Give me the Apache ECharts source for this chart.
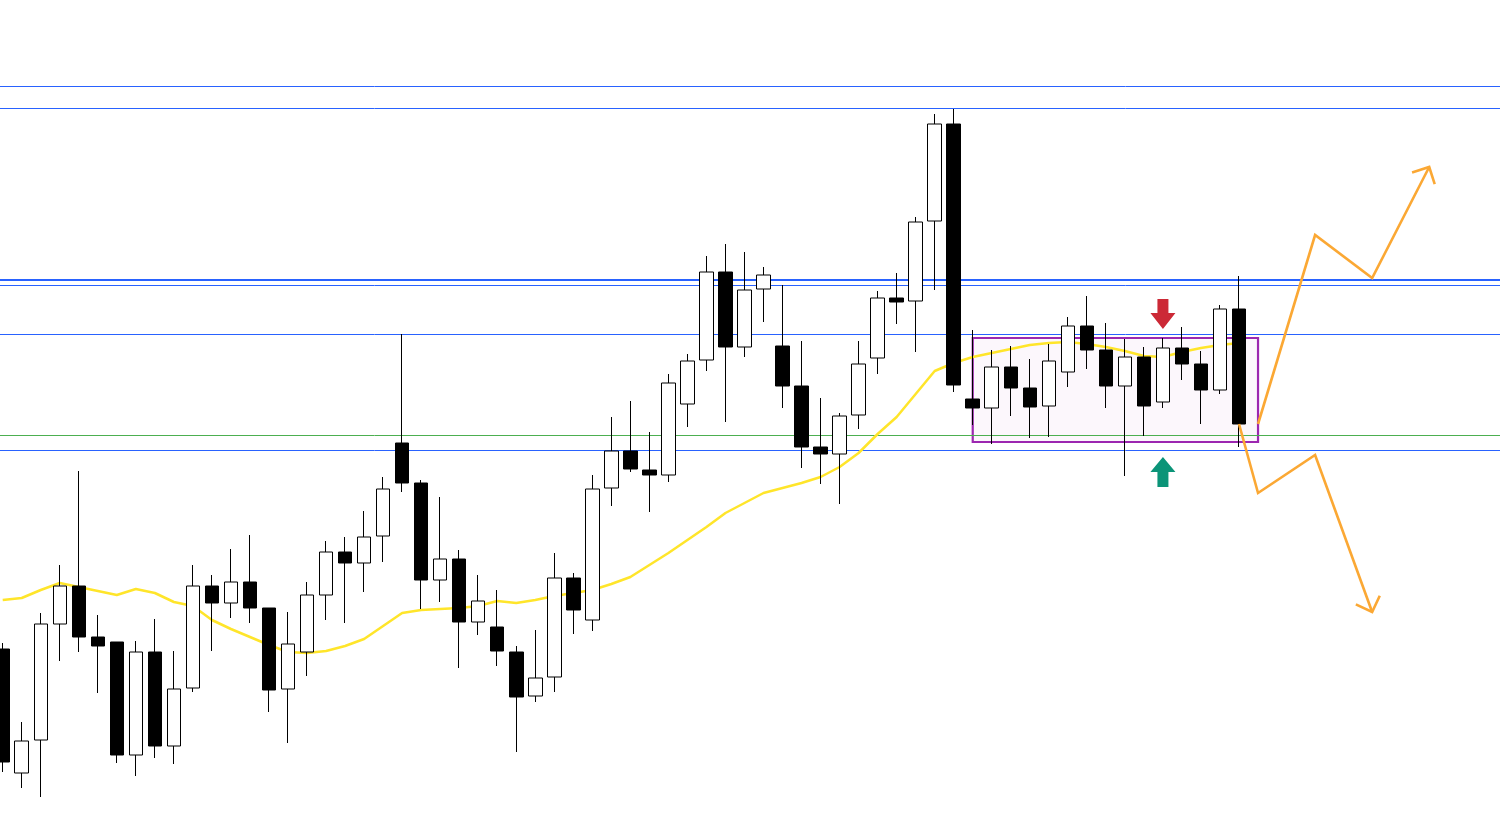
<!DOCTYPE html>
<html>
<head>
<meta charset="utf-8">
<script src="https://cdn.jsdelivr.net/npm/echarts@6/dist/echarts.min.js"></script>
<style>
html,body{margin:0;padding:0;background:#fff;}
#chart{width:1500px;height:814px;}
</style>
</head>
<body>
<div id="chart"></div>
<script>
// ---- data (prices on an arbitrary scale) ----
const opens  = [141.65,140.41,140.74,141.90,142.28,141.77,141.72,140.59,141.62,140.68,
                141.26,142.28,142.11,142.32,142.06,141.25,141.62,142.19,142.62,142.51,
                142.78,143.71,143.31,142.34,142.55,141.92,141.87,141.62,141.18,141.37,
                142.36,141.94,143.26,143.63,143.44,143.39,144.10,144.54,145.42,144.67,
                145.25,144.68,144.28,143.67,143.60,143.99,144.56,145.16,145.13,145.93,
                146.90,144.15,144.06,144.47,144.26,144.08,144.42,144.88,144.64,144.28,
                144.57,144.12,144.66,144.50,144.24,145.05];
const closes = [140.52,140.73,141.90,142.28,141.77,141.68,140.59,141.62,140.68,141.25,
                142.28,142.11,142.32,142.06,141.24,141.70,142.19,142.62,142.51,142.77,
                143.25,143.31,142.34,142.55,141.92,142.13,141.63,141.17,141.36,142.36,
                142.04,143.25,143.63,143.45,143.39,144.31,144.53,145.42,144.67,145.24,
                145.39,144.28,143.67,143.60,143.98,144.50,145.16,145.12,145.92,146.90,
                144.29,144.06,144.47,144.26,144.07,144.53,144.88,144.64,144.28,144.57,
                144.08,144.66,144.50,144.24,145.05,143.90];
const lows   = [140.42,140.26,140.17,141.53,141.62,141.21,140.51,140.38,140.56,140.50,
                141.22,141.63,141.96,141.91,141.02,140.71,141.38,141.94,141.91,142.22,
                142.52,143.22,142.05,142.12,141.46,141.79,141.48,140.62,141.12,141.22,
                141.80,141.83,143.08,143.42,143.02,143.32,143.87,144.43,143.92,144.57,
                144.92,144.06,143.46,143.30,143.10,143.85,144.40,144.90,144.62,145.24,
                144.22,143.89,143.70,143.98,143.76,143.77,144.27,144.45,144.06,143.38,
                143.78,144.06,144.34,143.90,144.20,143.67];
const highs  = [141.71,140.92,142.01,142.49,143.43,141.99,141.72,141.73,141.95,141.63,
                142.49,142.39,142.65,142.79,142.06,142.02,142.32,142.73,142.77,143.03,
                143.37,144.80,143.34,143.17,142.64,142.39,142.24,141.68,141.84,142.61,
                142.41,143.39,143.97,144.13,143.82,144.40,144.60,145.58,145.70,145.62,
                145.47,145.29,144.73,144.16,144.01,144.73,145.23,145.41,145.97,147.00,
                147.05,144.84,144.64,144.68,144.55,144.70,144.97,145.18,144.91,144.75,
                144.67,144.76,144.87,144.63,145.09,145.38];
const maValues = [142.14,142.16,142.24,142.31,142.27,142.23,142.19,142.25,142.21,142.12,
                  142.08,141.94,141.85,141.77,141.69,141.62,141.61,141.63,141.68,141.75,
                  141.88,142.01,142.04,142.05,142.06,142.08,142.13,142.11,142.14,142.18,
                  142.21,142.24,142.30,142.37,142.49,142.61,142.74,142.87,143.01,143.11,
                  143.21,143.26,143.31,143.37,143.47,143.61,143.80,143.97,144.20,144.43,
                  144.51,144.57,144.61,144.65,144.69,144.71,144.72,144.70,144.67,144.63,
                  144.58,144.57,144.62,144.66,144.69,144.71];
const slotCount = 80;                       // candle slots incl. empty future area
const categories = Array.from({length: slotCount}, (_, i) => 'Bar ' + (i + 1));
const blueLevels  = [147.275, 147.055, 145.34, 145.285, 144.795, 143.635];
const blueWidths  = [1, 1, 2, 1, 1, 1];
const greenLevel  = 143.785;
const rangeBox    = {fromBar: 51, toBar: 66, top: 144.76, bottom: 143.72};
const bullScenario = [[66, 143.90], [69, 145.79], [72, 145.36], [75, 146.47]];
const bearScenario = [[65, 143.90], [66, 143.21], [69, 143.59], [72, 142.02]];
const sellSignal = [[61, 145.00]];
const buySignal  = [[61, 143.42]];

const candleData = opens.map((o, i) => [o, closes[i], lows[i], highs[i]]);
const slot = 19.02;

function pathRenderer(points, color) {
  return function (params, api) {
    if (params.dataIndex !== 0) return;
    const pts = points.map(p => api.coord(p));
    const tip = pts[pts.length - 1], prev = pts[pts.length - 2];
    let dx = prev[0] - tip[0], dy = prev[1] - tip[1];
    const len = Math.hypot(dx, dy); dx /= len; dy /= len;
    const L = 18, a = Math.PI / 4;
    const rot = (ang) => [tip[0] + L * (dx * Math.cos(ang) - dy * Math.sin(ang)),
                          tip[1] + L * (dx * Math.sin(ang) + dy * Math.cos(ang))];
    const style = {stroke: color, lineWidth: 2.6, fill: null, lineJoin: 'miter', lineCap: 'butt'};
    return {
      type: 'group',
      children: [
        {type: 'polyline', shape: {points: pts}, style: style},
        {type: 'polyline', shape: {points: [rot(a), tip, rot(-a)]}, style: style}
      ]
    };
  };
}

const hlineSeries = blueLevels.map((v, i) => ({
  type: 'line', xAxisIndex: 1, yAxisIndex: 0, z: 1, silent: true,
  symbol: 'none', animation: false,
  data: [[-0.5, v], [slotCount - 0.5, v]],
  lineStyle: {color: '#2962ff', width: blueWidths[i]}
}));
hlineSeries.push({
  type: 'line', xAxisIndex: 1, yAxisIndex: 0, z: 1, silent: true,
  symbol: 'none', animation: false,
  data: [[-0.5, greenLevel], [slotCount - 0.5, greenLevel]],
  lineStyle: {color: '#4caf50', width: 1}
});

const chart = echarts.init(document.getElementById('chart'), null, {renderer: 'canvas'});
chart.setOption({
  animation: false,
  backgroundColor: '#ffffff',
  grid: {left: -6.8, top: 0, width: slotCount * slot, height: 814,
         containLabel: false, outerBoundsMode: 'none'},
  xAxis: [
    {type: 'category', data: categories, boundaryGap: true, show: false},
    {type: 'value', min: -0.5, max: slotCount - 0.5, show: false}
  ],
  yAxis: [{type: 'value', min: 140, max: 148.14, show: false}],
  series: [
    ...hlineSeries,
    {
      type: 'line', name: 'MA', xAxisIndex: 0, data: maValues, z: 2,
      symbol: 'none', smooth: false,
      lineStyle: {color: '#ffe52a', width: 2.5}
    },
    {
      type: 'candlestick', name: 'Price', xAxisIndex: 0, data: candleData, z: 3,
      barWidth: 14,
      itemStyle: {color: '#ffffff', color0: '#000000', borderColor: '#000000', borderColor0: '#000000', borderWidth: 1},
      markArea: {
        silent: true,
        itemStyle: {color: 'rgba(156,39,176,0.035)', borderColor: '#9c27b0', borderWidth: 2.2},
        data: [[{xAxis: rangeBox.fromBar, yAxis: rangeBox.top}, {xAxis: rangeBox.toBar, yAxis: rangeBox.bottom}]]
      }
    },
    {
      type: 'custom', xAxisIndex: 1, z: 6, data: bullScenario, encode: {x: 0, y: 1},
      renderItem: pathRenderer(bullScenario, '#fba834'), silent: true
    },
    {
      type: 'custom', xAxisIndex: 1, z: 6, data: bearScenario, encode: {x: 0, y: 1},
      renderItem: pathRenderer(bearScenario, '#fba834'), silent: true
    },
    {
      type: 'scatter', xAxisIndex: 0, data: sellSignal, z: 6,
      symbol: 'path://M7,0 L18,0 L18,14 L25,14 L12.5,30 L0,14 L7,14 Z',
      symbolSize: [25, 30], itemStyle: {color: '#cc2936', opacity: 1}
    },
    {
      type: 'scatter', xAxisIndex: 0, data: buySignal, z: 6,
      symbol: 'path://M12.5,0 L25,15 L18,15 L18,30 L7,30 L7,15 L0,15 Z',
      symbolSize: [25, 30], itemStyle: {color: '#0b9478', opacity: 1}
    }
  ]
});
</script>
</body>
</html>
